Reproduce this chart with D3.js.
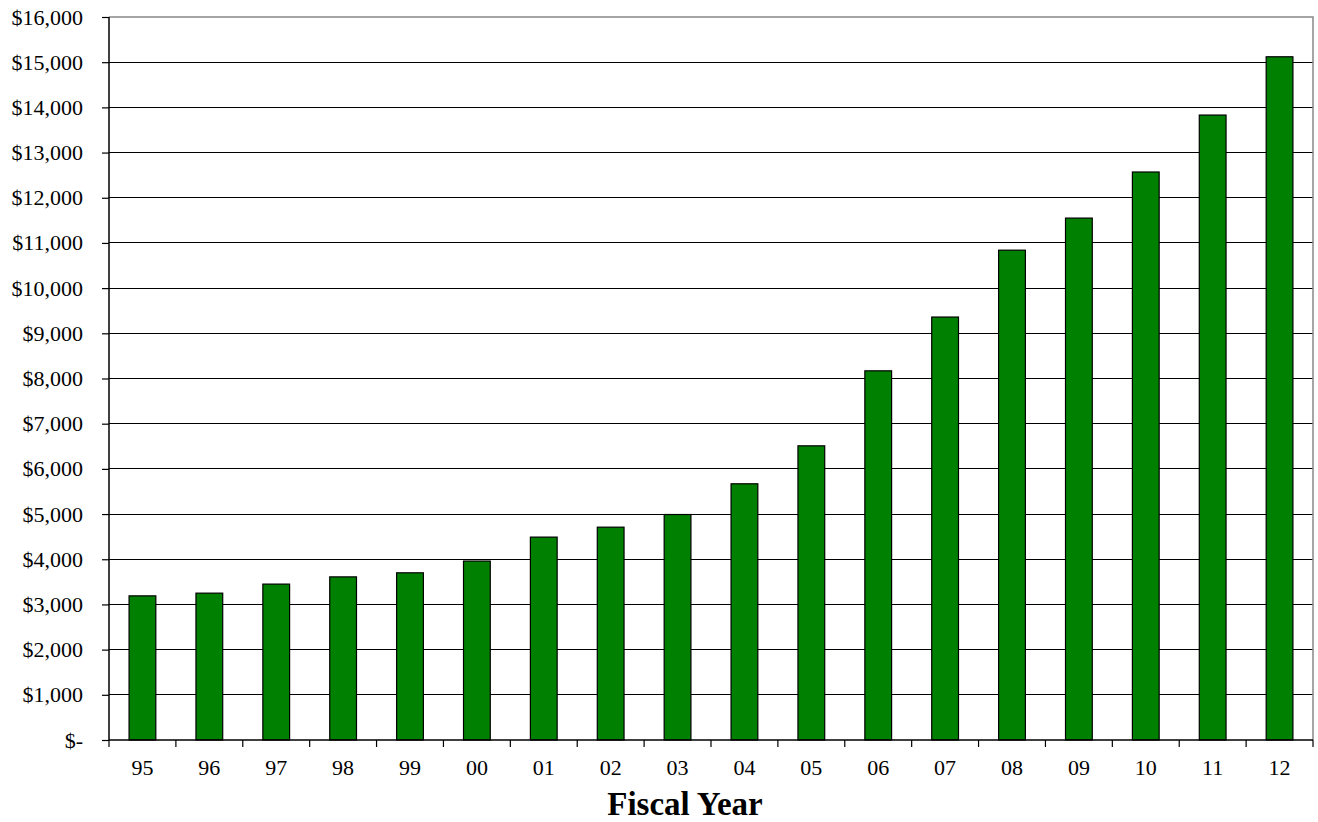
<!DOCTYPE html>
<html>
<head>
<meta charset="utf-8">
<script src="https://cdn.jsdelivr.net/npm/d3@7"></script>
<style>
body{margin:0;background:#fff;}
svg{display:block;}
text{font-family:"Liberation Serif","Times New Roman",serif;fill:#000;}
</style>
</head>
<body>
<svg id="chart" width="1318" height="822"></svg>
<script>
const years = ["95","96","97","98","99","00","01","02","03","04","05","06","07","08","09","10","11","12"];
const values = [3190,3250,3450,3610,3700,3960,4490,4710,4990,5670,6510,8170,9360,10840,11550,12570,13830,15120];
const yTicks = [0,1000,2000,3000,4000,5000,6000,7000,8000,9000,10000,11000,12000,13000,14000,15000,16000];
const xTitle = "Fiscal Year";

const svg = d3.select("#chart");
const L = 109, R = 1313, T = 17, B = 740;

const x = d3.scaleBand().domain(years).range([L, R]).paddingInner(0.6).paddingOuter(0.3);
const xb = d3.scaleBand().domain(years).range([L, R]);
const y = d3.scaleLinear().domain([0, 16000]).range([B, T]);

const fmt = v => v === 0 ? "$-" : "$" + d3.format(",")(v);

// gridlines
svg.append("g").selectAll("line").data(yTicks.filter(v => v > 0 && v < 16000)).join("line")
  .attr("x1", L).attr("x2", R)
  .attr("y1", d => y(d)).attr("y2", d => y(d))
  .attr("stroke", "#000").attr("stroke-width", 1).attr("shape-rendering","crispEdges");

// plot border (top/right grey)
svg.append("path")
  .attr("d", `M${L},${T}H${R}V${B}`)
  .attr("fill","none").attr("stroke","#888").attr("stroke-width",1.5);

// bars
svg.append("g").selectAll("rect").data(values).join("rect")
  .attr("x", (d,i) => x(years[i]))
  .attr("width", x.bandwidth())
  .attr("y", d => y(d))
  .attr("height", d => B - y(d))
  .attr("fill", "#008000")
  .attr("stroke", "#000").attr("stroke-width", 1.2);

// y axis
const yAxis = d3.axisLeft(y).tickValues(yTicks).tickFormat(fmt).tickSize(7).tickPadding(19);
const gy = svg.append("g").attr("transform", `translate(${L},0)`).call(yAxis);
gy.select(".domain").attr("stroke","#000").attr("stroke-width",1.5).attr("d", `M-0,${T}V${B}`);
gy.selectAll(".tick line").attr("stroke","#000").attr("stroke-width",1.2);
gy.selectAll("text").style("font-size","22px").attr("fill","#000");

// x axis
const xAxis = d3.axisBottom(xb).tickSize(0).tickPadding(19);
const gx = svg.append("g").attr("transform", `translate(0,${B})`).call(xAxis);
gx.select(".domain").attr("stroke","#000").attr("stroke-width",1.5).attr("d", `M${L},0H${R}`);
gx.selectAll("text").style("font-size","22px").attr("fill","#000");
// category boundary ticks
const bounds = years.map(d => xb(d)).concat([R]);
svg.append("g").selectAll("line").data(bounds).join("line")
  .attr("x1", d => d).attr("x2", d => d)
  .attr("y1", B).attr("y2", B + 7)
  .attr("stroke","#000").attr("stroke-width",1.2);

// title
svg.append("text").attr("x", 685).attr("y", 815).attr("text-anchor","middle")
  .style("font-size","33px").style("font-weight","bold").text(xTitle);
</script>
</body>
</html>
